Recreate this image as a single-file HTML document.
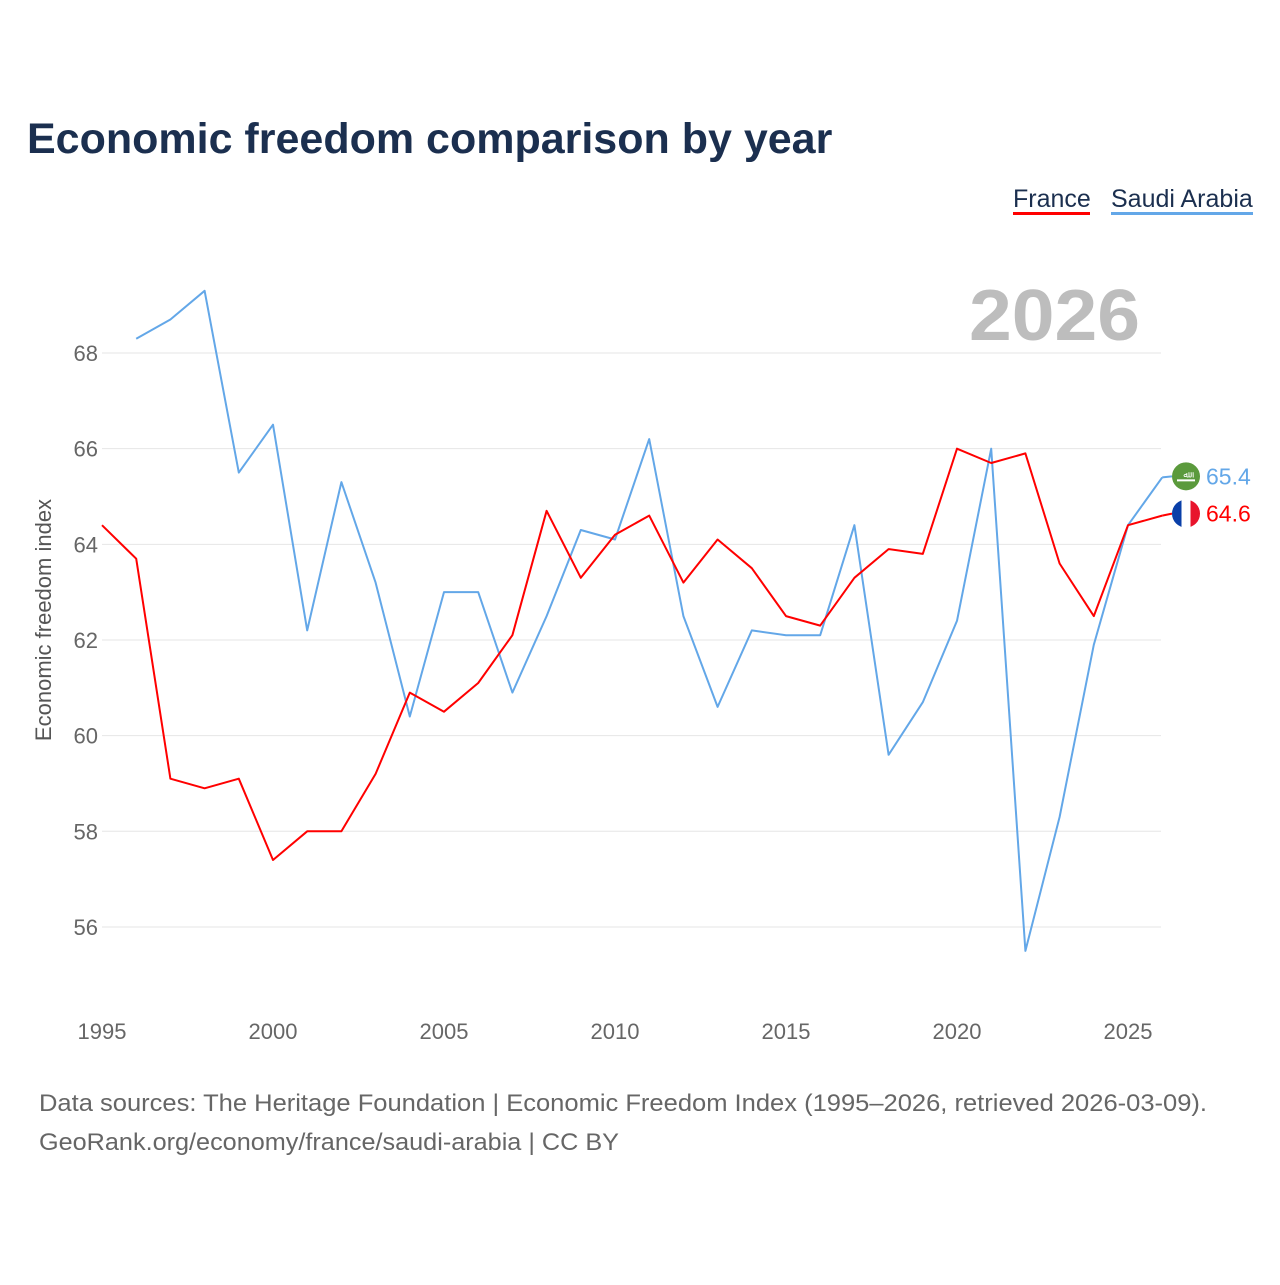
<!DOCTYPE html>
<html><head><meta charset="utf-8">
<style>
html,body{margin:0;padding:0;background:#fff;}
body{width:1280px;height:1280px;position:relative;font-family:"Liberation Sans",sans-serif;overflow:hidden;}
svg text{font-family:"Liberation Sans",sans-serif;}
</style></head>
<body>
<svg id="chart" width="1280" height="1280" xmlns="http://www.w3.org/2000/svg">
<text x="27" y="153" font-size="43" font-weight="bold" fill="#1b2f4f">Economic freedom comparison by year</text>
<g>
<text x="1013" y="207" font-size="25" fill="#1b2f4f">France</text>
<rect x="1013" y="212" width="77" height="3" fill="#f00"/>
<text x="1111" y="207" font-size="25" fill="#1b2f4f">Saudi Arabia</text>
<rect x="1111" y="212" width="142" height="3" fill="#63a7e8"/>
</g>
<text x="969" y="340" textLength="171" lengthAdjust="spacingAndGlyphs" font-size="72" font-weight="bold" fill="#bdbdbd">2026</text>
<g id="grid"></g>
<g id="xaxis"></g>
<text transform="translate(51,620) rotate(-90)" text-anchor="middle" font-size="22" fill="#555">Economic freedom index</text>
<g id="series"></g>
<g id="endlabels"></g>
<text x="39" y="1111" textLength="1168" lengthAdjust="spacingAndGlyphs" font-size="24" fill="#666">Data sources: The Heritage Foundation | Economic Freedom Index (1995–2026, retrieved 2026-03-09).</text>
<text x="39" y="1150" textLength="580" lengthAdjust="spacingAndGlyphs" font-size="24" fill="#666">GeoRank.org/economy/france/saudi-arabia | CC BY</text>
</svg>
<script>
const years=[1995,1996,1997,1998,1999,2000,2001,2002,2003,2004,2005,2006,2007,2008,2009,2010,2011,2012,2013,2014,2015,2016,2017,2018,2019,2020,2021,2022,2023,2024,2025,2026];
const france=[64.4,63.7,59.1,58.9,59.1,57.4,58.0,58.0,59.2,60.9,60.5,61.1,62.1,64.7,63.3,64.2,64.6,63.2,64.1,63.5,62.5,62.3,63.3,63.9,63.8,66.0,65.7,65.9,63.6,62.5,64.4,64.6];
const saudi=[null,68.3,68.7,69.3,65.5,66.5,62.2,65.3,63.2,60.4,63.0,63.0,60.9,62.5,64.3,64.1,66.2,62.5,60.6,62.2,62.1,62.1,64.4,59.6,60.7,62.4,66.0,55.5,58.3,61.9,64.4,65.4];
const yTicks=[56,58,60,62,64,66,68];
const xTicks=[1995,2000,2005,2010,2015,2020,2025];
const NS="http://www.w3.org/2000/svg";
const X=y=>102+(y-1995)*34.2;
const Y=v=>353+(68-v)*47.83;
function mk(t,a,p){const e=document.createElementNS(NS,t);for(const k in a)e.setAttribute(k,a[k]);p.appendChild(e);return e;}
const grid=document.getElementById('grid');
yTicks.forEach(v=>{
 const l=mk('line',{x1:102,x2:1161,y1:Y(v),y2:Y(v),stroke:'#e6e6e6','stroke-width':1},grid);
 
 
 const t=mk('text',{x:98,y:Y(v)+8,'text-anchor':'end','font-size':22,fill:'#666'},grid);
 t.textContent=v;
 
 
});
const xa=document.getElementById('xaxis');
xTicks.forEach(v=>{
 const t=mk('text',{x:X(v),y:1039,'text-anchor':'middle','font-size':22,fill:'#666'},xa);
 t.textContent=v;
 
 
});
const ser=document.getElementById('series');
function line(vals,color,name){
 let d='';vals.forEach((v,i)=>{if(v==null)return;d+=(d?'L':'M')+X(years[i]).toFixed(1)+','+Y(v).toFixed(1);});
 const p=mk('path',{d:d,fill:'none',stroke:color,'stroke-width':2,'stroke-linejoin':'round'},ser);
 
 
}
line(saudi,'#63a7e8','line-saudi-arabia');
line(france,'#ff0000','line-france');
const el=document.getElementById('endlabels');
const lx=X(2026);
const sv=saudi[saudi.length-1], fv=france[france.length-1];
let sy=Y(sv)-1, fy=Y(fv)-2;
mk('line',{x1:lx,x2:1172,y1:Y(sv),y2:sy,stroke:'#63a7e8','stroke-width':2},el);
const sc=mk('circle',{cx:1186,cy:sy,r:14,fill:'#5b9a3c'},el);


mk('rect',{x:1177,y:sy+3,width:18,height:2,fill:'#fff'},el);
mk('text',{x:1186,y:sy+1,'text-anchor':'middle','font-size':9,fill:'#fff'},el).textContent='ﷲ';
const st=mk('text',{x:1206,y:sy+8,'font-size':23,fill:'#63a7e8'},el);
st.textContent=sv.toFixed(1);


mk('line',{x1:lx,x2:1172,y1:Y(fv),y2:fy,stroke:'#ff0000','stroke-width':2},el);
const g=mk('g',{},el);


const cp=mk('clipPath',{id:'fc'},g);mk('circle',{cx:1186,cy:fy,r:14},cp);
mk('rect',{x:1172,y:fy-14,width:10,height:28,fill:'#0a3fa8','clip-path':'url(#fc)'},g);
mk('rect',{x:1181.5,y:fy-14,width:9,height:28,fill:'#fff','clip-path':'url(#fc)'},g);
mk('rect',{x:1190.5,y:fy-14,width:10,height:28,fill:'#e8142c','clip-path':'url(#fc)'},g);
const ft=mk('text',{x:1206,y:fy+8,'font-size':23,fill:'#ff0000'},el);
ft.textContent=fv.toFixed(1);


</script>
</body></html>
